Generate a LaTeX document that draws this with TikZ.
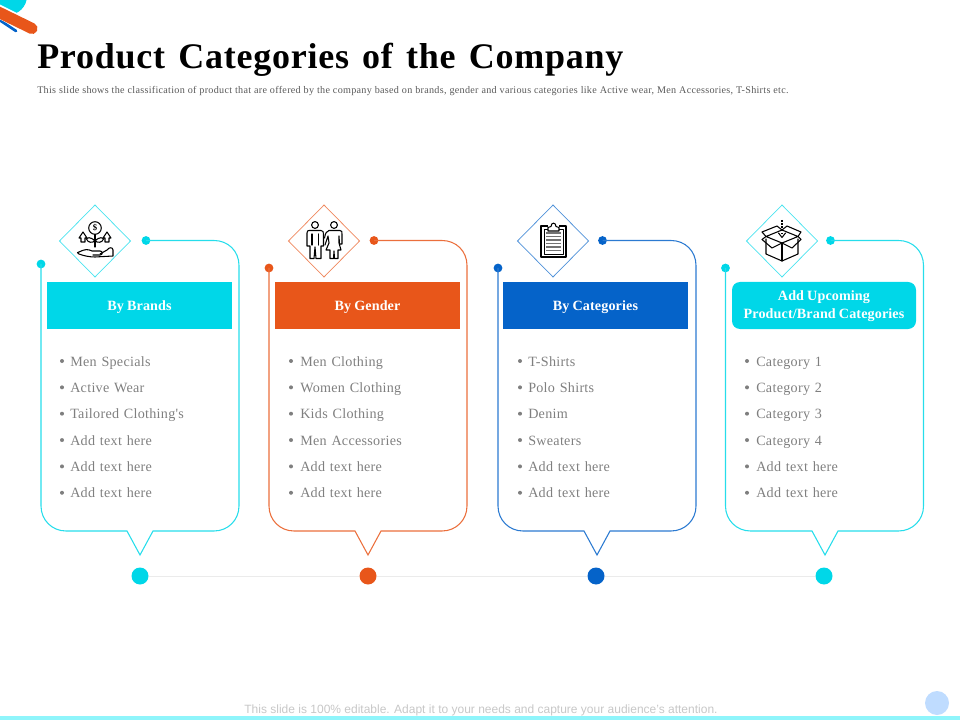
\documentclass[tikz,border=0pt]{standalone}
\usepackage{fontspec}
\setmainfont{Liberation Serif}
\newfontfamily\bodyfont[LetterSpace=2.0,WordSpace=1.25]{Liberation Serif}
\newfontfamily\headfont[LetterSpace=0.8,WordSpace=0.85]{Liberation Serif}
\newfontfamily\titlefont[LetterSpace=2.1,WordSpace=1.35]{Liberation Serif}
\newfontfamily\subfont[LetterSpace=2.8,WordSpace=1.05]{Liberation Serif}
\setsansfont{Liberation Sans}
\definecolor{ccyan}{HTML}{00D7E8}
\definecolor{corange}{HTML}{E8561A}
\definecolor{cblue}{HTML}{0563C9}
\definecolor{cgrey}{HTML}{7F7F7F}
\definecolor{cbar}{HTML}{8FF5FB}
\definecolor{cpage}{HTML}{BFDCFF}
\tikzset{
  x=0.75pt,y=-0.75pt,
  enddot/.style={circle,inner sep=0pt,minimum size=6.6pt},
  diamondframe/.style={line width=0.55pt},
  headbox/.style={minimum width=138.75pt,minimum height=35.25pt,inner sep=0pt,text=white,align=center,font=\headfont\bfseries\fontsize{10.6pt}{13.5pt}\selectfont},
  itemtext/.style={anchor=base west,inner sep=0pt,text=cgrey,font=\bodyfont\fontsize{10.6pt}{12pt}\selectfont},
  bulletdot/.style={circle,inner sep=0pt,minimum size=3pt,fill=cgrey},
  timedot/.style={circle,inner sep=0pt,minimum size=12.75pt},
  ico/.style={line width=0.8pt,black,line cap=round,line join=round},
}
\newcommand{\mypanel}[7]{%
 % #1 id, #2 left line x, #3 colour, #4 left dot y, #5 diamond centre x, #6 top dot x, #7 tip x
 \node[enddot,fill=#3] (leftdot#1) at (#2,#4) {};
 \node[enddot,fill=#3] (topdot#1) at (#6,240.5) {};
 \draw[#3!85!white,line width=0.8pt,line join=miter] (topdot#1.center) -- (#2+173,240.5)
   .. controls (#2+187,240.5) and (#2+198,251) .. (#2+198,265.5) -- (#2+198,506)
   .. controls (#2+198,520) and (#2+187,531) .. (#2+173,531) -- (#7+13,531) -- (#7,555) -- (#7-13,531) -- (#2+25,531)
   .. controls (#2+11,531) and (#2,520) .. (#2,506) -- (leftdot#1.center);
 \draw[diamondframe,#3!70!white] (#5,205) -- (#5+35.5,241) -- (#5,277) -- (#5-35.5,241) -- cycle;
}
\begin{document}
\begin{tikzpicture}
\useasboundingbox (0,0) rectangle (960,720);
% corner decoration
\fill[ccyan] (8,-4) circle[radius=19];
\draw[cblue,line width=2pt,line cap=round] (-5,17) -- (16,31);
\draw[white,line width=10pt] (-8,8) -- (36,30);
\draw[corange,line width=8.4pt,line cap=round] (-8,9) -- (32,28.5);
% title
\node[anchor=base west,inner sep=0pt,font=\titlefont\bfseries\fontsize{27pt}{30pt}\selectfont] (title) at (37,69) {Product Categories of the Company};
\node[anchor=base west,inner sep=0pt,text=black!65,font=\subfont\fontsize{7.6pt}{9pt}\selectfont] (sub) at (37,94) {This slide shows the classification of product that are offered by the company based on brands, gender and various categories like Active wear, Men Accessories, T-Shirts etc.};
% panels
\mypanel{a}{41}{ccyan}{264}{95}{146}{140}
\mypanel{b}{269}{corange}{268}{324}{374}{368}
\mypanel{c}{498}{cblue}{268}{553}{602.5}{597}
\mypanel{d}{725.5}{ccyan}{268}{782}{830.5}{825}
% headers
\node[headbox,fill=ccyan] (ha) at (139.5,305.5) {\rule{0pt}{10pt}By Brands};
\node[headbox,fill=corange] (hb) at (367.5,305.5) {\rule{0pt}{10pt}By Gender};
\node[headbox,fill=cblue] (hc) at (595.5,305.5) {\rule{0pt}{10pt}By Categories};
\node[headbox,fill=ccyan,rounded corners=6pt,minimum width=138pt] (hd) at (824,305.5) {\rule{0pt}{8.3pt}Add Upcoming\\Product/Brand Categories};
% lists
\foreach \bx/\tx/\pre/\items in {
 62/70/a/{Men Specials,Active Wear,Tailored Clothing's,Add text here,Add text here,Add text here},
 291/300/b/{Men Clothing,Women Clothing,Kids Clothing,Men Accessories,Add text here,Add text here},
 520/528/c/{T-Shirts,Polo Shirts,Denim,Sweaters,Add text here,Add text here},
 747/756/d/{Category 1,Category 2,Category 3,Category 4,Add text here,Add text here}}{
  \foreach \t [count=\i] in \items {
    \pgfmathsetmacro{\yy}{361+(\i-1)*26.35}
    \pgfmathsetmacro{\yb}{\yy+5.2}
    \node[bulletdot] (bu\pre\i) at (\bx,\yy) {};
    \node[itemtext] (it\pre\i) at (\tx,\yb) {\t};
  }
}
% timeline
\node[timedot,fill=ccyan] (ta) at (140,576) {};
\node[timedot,fill=corange] (tb) at (368,576) {};
\node[timedot,fill=cblue] (tc) at (596,576) {};
\node[timedot,fill=ccyan] (td) at (824,576) {};
\draw[black!8,line width=0.6pt] (ta) -- (tb);
\draw[black!8,line width=0.6pt] (tb) -- (tc);
\draw[black!8,line width=0.6pt] (tc) -- (td);
% icon: hand and coin
\begin{scope}[ico]
 \draw (95,228) circle[radius=6.3];
 \node[inner sep=0pt,font=\fontsize{6.5pt}{7pt}\selectfont\bfseries] (dollar) at (95,228) {\$};
 \draw (95,234.5) -- (95,247);
 \draw (95,241) .. controls (90,236) and (87,238) .. (86.5,239) .. controls (88,243) and (92,243) .. (95,241);
 \draw (95,241) .. controls (100,236) and (103,238) .. (103.5,239) .. controls (102,243) and (98,243) .. (95,241);
 \draw (83,232) -- (87,238) -- (85,238) -- (85,242) -- (81,242) -- (81,238) -- (79,238) -- cycle;
 \draw (107,232) -- (111,238) -- (109,238) -- (109,242) -- (105,242) -- (105,238) -- (103,238) -- cycle;
 \draw (79,252) .. controls (85,249) and (88,249) .. (92,251) -- (100,251) .. controls (103,251) and (103,255) .. (100,255) -- (93,255);
 \draw (100,254) -- (107,250) .. controls (109,247) and (113,247) .. (113,250) -- (113,256) -- (95,257) .. controls (90,257) and (84,256) .. (79,254) .. controls (77,253) and (77,252) .. (79,252);
\end{scope}
% icon: two figures
\begin{scope}[ico]
 \draw (315,225) circle[radius=3.4];
 \draw (334,225) circle[radius=3.4];
 \draw (309,230.5) -- (321,230.5) .. controls (323,230.5) and (323.5,232) .. (323.5,234) -- (323.5,246) -- (321,246) -- (321,258.5) -- (316,258.5) -- (315,247) -- (314,258.5) -- (310,258.5) -- (310,246) -- (307,246) -- (307,233) .. controls (307,231) and (308,230.5) .. (309,230.5);
 \draw (329,230.5) -- (340,230.5) .. controls (342,230.5) and (342,232) .. (342,234) -- (342,244) -- (339.5,244) -- (339,236) -- (339,243) -- (341,250) -- (338,250) -- (338,258.5) -- (334.5,258.5) -- (334,251) -- (333.5,258.5) -- (330,258.5) -- (330,250) -- (326,250) -- (329,243) -- (328,236) -- (325,245);
 \draw (329,230.5) .. controls (326.5,231) and (325.5,233) .. (324.5,238);
 \draw (312,234) -- (312,245);
 \draw (318.5,234) -- (318.5,245);
\end{scope}
% icon: clipboard
\begin{scope}[ico]
 \draw[line width=0.9pt] (541,226) rectangle (566,257);
 \draw[line width=0.7pt] (544,229) rectangle (563,254);
 \fill[white] (548,224) rectangle (559,231);
 \draw (548,231) -- (548,227.5) -- (551,226.5) .. controls (551,222) and (556,222) .. (556,226.5) -- (559,227.5) -- (559,231) -- cycle;
 \foreach \yy in {233,236.5,240,243.5,247,250.5}
  \draw[black!55,line width=1.4pt,line cap=butt] (546,\yy) -- (561,\yy);
\end{scope}
% icon: box
\begin{scope}[ico]
 \draw (782,243) -- (766,236.5) -- (782,230) -- (798,236.5) -- cycle;
 \draw (766,239) -- (766,254) -- (782,261) -- (798,254) -- (798,239);
 \draw (782,243) -- (782,261);
 \draw (782,243) -- (772,248) -- (762,239.5) -- (766,236.5);
 \draw (782,243) -- (792,248) -- (801,239.5) -- (798,236.5);
 \draw (766,236.5) -- (762,232) -- (777,226) -- (782,230);
 \draw (798,236.5) -- (801,232) -- (787,226) -- (782,230);
 \draw[dash pattern=on 1.2pt off 1.2pt,line cap=butt] (782,220) -- (782,234);
 \draw (778.5,233) -- (782,237.5) -- (785.5,233);
\end{scope}
% footer
\fill[cbar] (0,716) rectangle (960,720);
\node[circle,inner sep=0pt,minimum size=18pt,fill=cpage] (pagedot) at (937,703) {};
\node[anchor=base,inner sep=0pt,text=black!22,font=\sffamily\fontsize{9pt}{10pt}\selectfont] (foot) at (481,713) {This slide is 100\% editable. Adapt it to your needs and capture your audience's attention.};
\end{tikzpicture}
\end{document}
